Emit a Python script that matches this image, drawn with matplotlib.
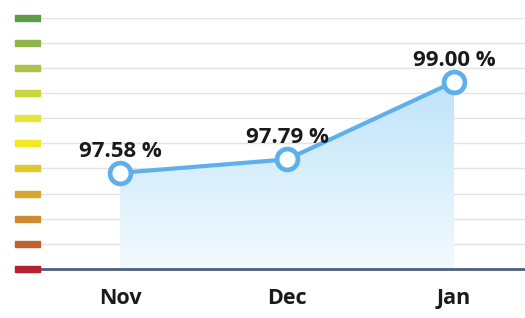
import numpy as np
import matplotlib
matplotlib.use("Agg")
import matplotlib.pyplot as plt
from matplotlib.patches import Rectangle
from matplotlib.colors import LinearSegmentedColormap

categories = ["Nov", "Dec", "Jan"]
values = [97.58, 97.79, 99.00]
labels = ["97.58 %", "97.79 %", "99.00 %"]
level_colors = ["#B3202E", "#C2622E", "#CF8B2F", "#D6A62D", "#E2C72C", "#F3E824",
                "#E3E43C", "#C9D53D", "#A9C34B", "#8DB54A", "#5C9C48"]

W, H = 525, 318
fig = plt.figure(figsize=(W/100, H/100), dpi=100)
ax_l, ax_r, ax_b, ax_t = 40, 525, 269, 17.7
ax = fig.add_axes([ax_l/W, 1-ax_b/H, (ax_r-ax_l)/W, (ax_b-ax_t)/H])
y0, y1 = 96.08, 100.0
ax.set_ylim(y0, y1)
ax.set_xlim(-0.48, 2.425)

x = np.arange(len(categories))
for g in np.linspace(y0, y1, 11)[1:]:
    ax.axhline(g, color="#e3e3e3", lw=1, zorder=1)

poly = ax.fill_between(x, values, y0, color="none", zorder=2)
grad = np.linspace(0, 1, 256).reshape(-1, 1)
cmap = LinearSegmentedColormap.from_list("g", ["#F3FAFE", "#BFE4F9"])
im = ax.imshow(grad, extent=[x[0], x[-1], y0, max(values)], origin="lower",
               aspect="auto", cmap=cmap, zorder=2)
im.set_clip_path(poly.get_paths()[0], transform=ax.transData)

ax.plot(x, values, color="#5EB0EC", lw=3, zorder=3, solid_capstyle="round")
ax.plot(x, values, "o", ms=15, mfc="white", mec="#5EB0EC", mew=3.4, zorder=4)
for xi, v, t in zip(x, values, labels):
    ax.annotate(t, (xi, v), xytext=(0, 15.5), textcoords="offset points",
                ha="center", va="center", fontsize=16, fontweight="bold",
                family="Open Sans", color="#1a1a1a", zorder=5)

for s in ["top", "right", "left"]:
    ax.spines[s].set_visible(False)
ax.spines["bottom"].set_color("#4f5f80")
ax.spines["bottom"].set_linewidth(2)
ax.set_yticks([])
ax.set_xticks([0.5, 1.5], minor=False)
ax.set_xticklabels([])
ax.tick_params(axis="x", direction="in", length=5, width=1.2, color="#4f5f80")
ax.set_xticks(x, minor=True)
ax.set_xticklabels(categories, minor=True, fontsize=15.5, fontweight="bold",
                   family="Open Sans", color="#1a1a1a")
ax.tick_params(axis="x", which="minor", length=0, pad=14)

for i, c in enumerate(level_colors):
    yy = ax_b - i * (ax_b - ax_t) / 10
    fig.patches.append(Rectangle((15/W, 1-(yy+3)/H), 25/W, 6/H, color=c,
                                 transform=fig.transFigure, figure=fig))

fig.savefig("out.png", dpi=100)
